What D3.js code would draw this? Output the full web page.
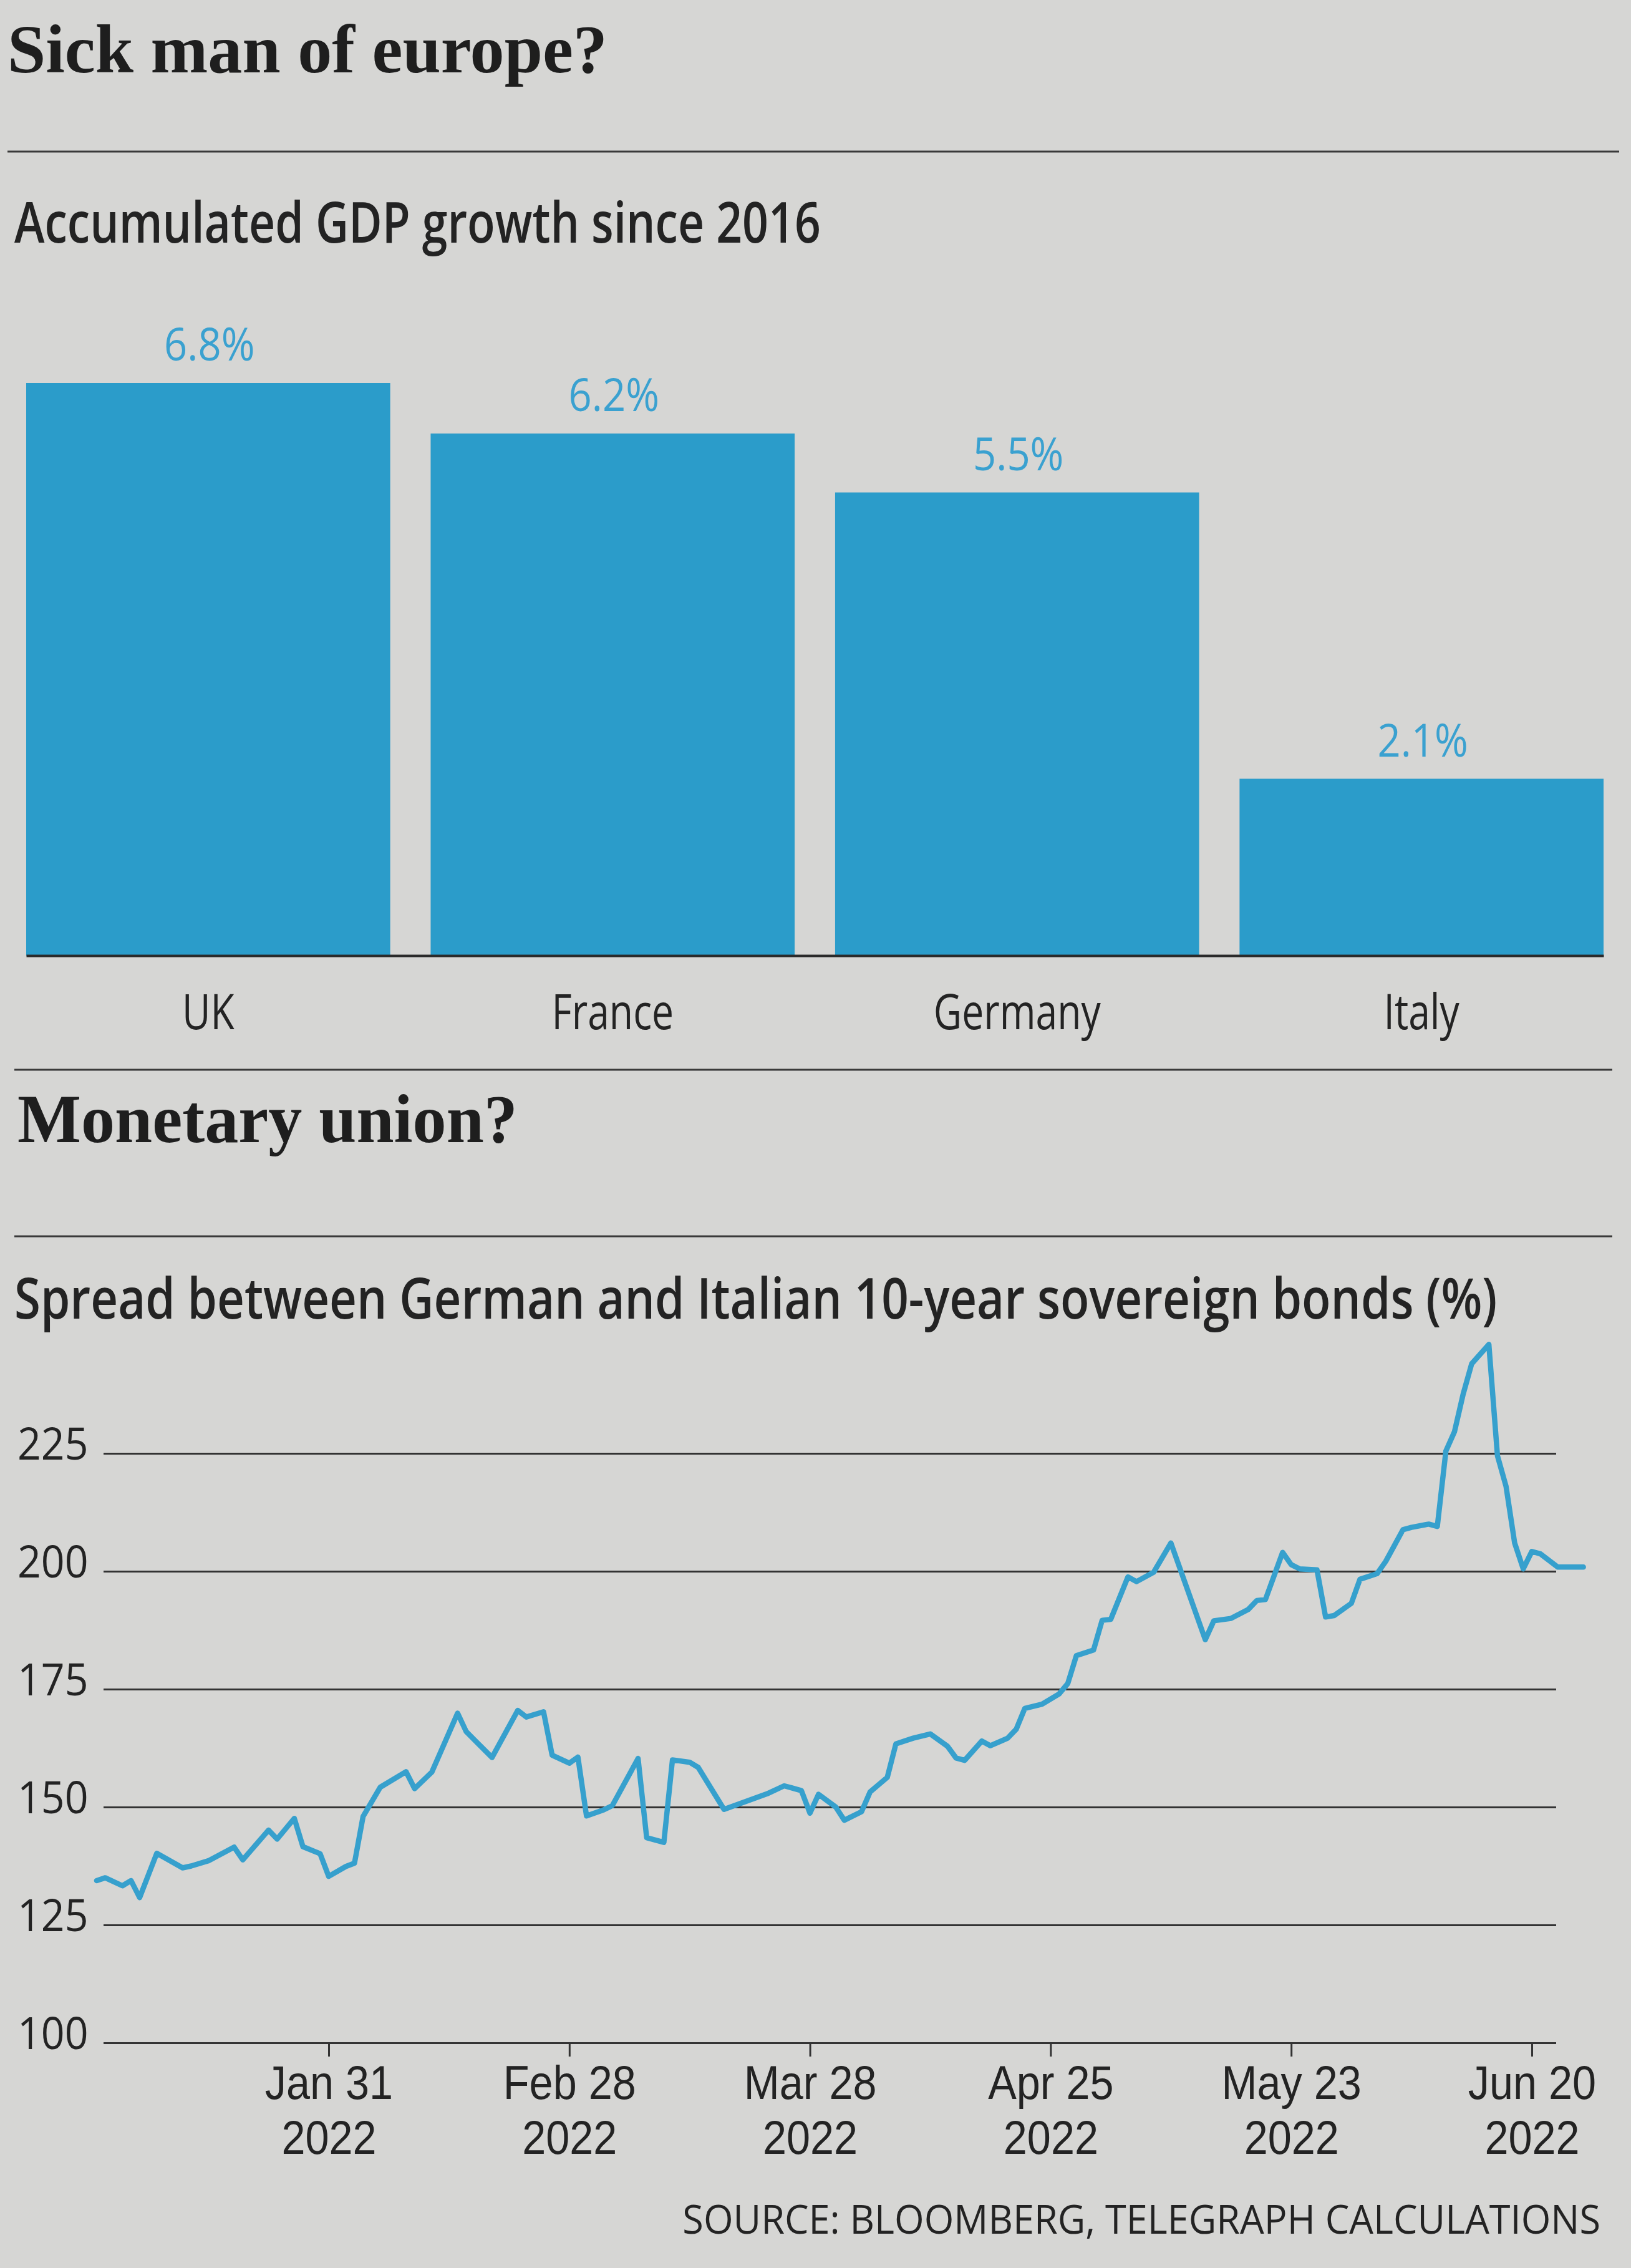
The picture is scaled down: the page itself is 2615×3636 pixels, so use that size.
<!DOCTYPE html>
<html><head><meta charset="utf-8">
<script src="https://cdn.jsdelivr.net/npm/d3@7"></script>
<style>html,body{margin:0;padding:0;background:#d6d6d4;} svg{display:block;}</style>
</head><body>
<svg id="chart" width="2615" height="3636"></svg>
<script>
// ---------- DATA ----------
const categories = ["UK", "France", "Germany", "Italy"];
const gdpGrowth = [6.8, 6.2, 5.5, 2.1];

const spreadTicks = [100, 125, 150, 175, 200, 225];
const dateTicks = ["2022-01-31", "2022-02-28", "2022-03-28", "2022-04-25", "2022-05-23", "2022-06-20"];

const spreadDates = [
  "2022-01-04","2022-01-05","2022-01-07","2022-01-08","2022-01-09","2022-01-11","2022-01-14","2022-01-15",
  "2022-01-17","2022-01-20","2022-01-21","2022-01-24","2022-01-25","2022-01-27","2022-01-28","2022-01-30",
  "2022-01-31","2022-02-02","2022-02-03","2022-02-04","2022-02-06","2022-02-09","2022-02-10","2022-02-12",
  "2022-02-15","2022-02-16","2022-02-19","2022-02-22","2022-02-23","2022-02-25","2022-02-26","2022-02-28",
  "2022-03-01","2022-03-02","2022-03-04","2022-03-05","2022-03-08","2022-03-09","2022-03-11","2022-03-12",
  "2022-03-14","2022-03-15","2022-03-18","2022-03-21","2022-03-23","2022-03-25","2022-03-27","2022-03-28",
  "2022-03-29","2022-03-31","2022-04-01","2022-04-03","2022-04-04","2022-04-06","2022-04-07","2022-04-09",
  "2022-04-11","2022-04-13","2022-04-14","2022-04-15","2022-04-17","2022-04-18","2022-04-20","2022-04-21",
  "2022-04-22","2022-04-24","2022-04-26","2022-04-27","2022-04-28","2022-04-30","2022-05-01","2022-05-02",
  "2022-05-04","2022-05-05","2022-05-07","2022-05-09","2022-05-13","2022-05-14","2022-05-16","2022-05-18",
  "2022-05-19","2022-05-20","2022-05-22","2022-05-23","2022-05-24","2022-05-26","2022-05-27","2022-05-28",
  "2022-05-30","2022-05-31","2022-06-02","2022-06-03","2022-06-05","2022-06-06","2022-06-08","2022-06-09",
  "2022-06-10","2022-06-11","2022-06-12","2022-06-13","2022-06-15","2022-06-16","2022-06-17","2022-06-18",
  "2022-06-19","2022-06-20","2022-06-21","2022-06-23","2022-06-26"
];
const spreadValues = [
  134.4,135.0,133.3,134.4,130.8,140.2,137.1,137.5,
  138.6,141.5,138.8,145.1,143.2,147.6,141.6,140.1,
  135.3,137.4,138.1,148.0,154.2,157.5,153.9,157.4,
  169.9,166.0,160.5,170.5,169.1,170.2,161.0,159.3,
  160.6,148.1,149.4,150.3,160.3,143.5,142.5,160.0,
  159.5,158.4,149.5,151.5,152.8,154.5,153.5,148.7,
  152.7,150.0,147.2,149.0,153.2,156.3,163.4,164.6,
  165.5,162.9,160.4,159.9,164.0,163.0,164.6,166.5,
  170.9,171.8,174.0,176.2,182.1,183.3,189.6,189.8,
  198.8,197.8,199.8,206.0,185.5,189.5,190.0,191.9,
  193.8,194.0,204.0,201.4,200.5,200.3,190.3,190.6,
  193.2,198.3,199.5,202.1,208.8,209.3,210.0,209.5,
  225.5,229.6,237.5,244.0,248.1,224.5,218.0,206.0,
  200.5,204.2,203.7,200.9,200.9
];

// ---------- STYLE ----------
const BLUE = "#2b9cca";
const BLUE_TXT = "#3aa1d0";
const INK = "#232323";
const SANS = "'Open Sans', 'Noto Sans', sans-serif";
const SANS_TIGHT = "'Liberation Sans', 'Open Sans', sans-serif";
const SERIF = "'Liberation Serif', 'DejaVu Serif', serif";

const svg = d3.select("#chart");
svg.append("rect").attr("width", 2615).attr("height", 3636).attr("fill", "#d6d6d4");

// place a text, horizontally scaled by transform (either to a target width or by a factor)
function placeText(parent, str, x, y, o) {
  const t = parent.append("text").text(str)
    .attr("font-family", o.family || SANS)
    .attr("font-weight", o.weight || 400)
    .attr("font-size", o.size)
    .attr("fill", o.fill || INK)
    .attr("text-anchor", o.anchor || "start");
  const w = t.node().getComputedTextLength();
  const s = o.width ? o.width / w : (o.k || 1);
  t.attr("transform", `translate(${x},${y}) scale(${s},1)`);
  return t;
}
function rule(y, x1, x2) {
  svg.append("line").attr("x1", x1).attr("x2", x2).attr("y1", y).attr("y2", y)
    .attr("stroke", "#3a3a3a").attr("stroke-width", 3);
}

// ---------- HEADINGS ----------
placeText(svg, "Sick man of europe?", 12, 116, { family: SERIF, weight: 700, size: 110, fill: "#1e1e1e", width: 962 });
rule(243, 12, 2596);
placeText(svg, "Accumulated GDP growth since 2016", 23, 389, { weight: 600, size: 90, width: 1293 });

// ---------- BAR CHART ----------
const xBand = d3.scaleBand().domain(categories).range([42, 2571]).paddingInner(0.1).paddingOuter(0);
const yBar = d3.scaleLinear().domain([0, 7]).range([1532, 587]);
const bars = categories.map((c, i) => ({ c, v: gdpGrowth[i] }));

svg.append("g").selectAll("rect").data(bars).join("rect")
  .attr("x", d => xBand(d.c)).attr("width", xBand.bandwidth())
  .attr("y", d => yBar(d.v)).attr("height", d => yBar(0) - yBar(d.v))
  .attr("fill", BLUE);

const gLab = svg.append("g");
bars.forEach(d => {
  placeText(gLab, d3.format(".1f")(d.v) + "%", xBand(d.c) + xBand.bandwidth() / 2 + 2, yBar(d.v) - 36,
    { size: 74, fill: BLUE_TXT, anchor: "middle", k: 0.88 });
});

const xAxisBar = d3.axisBottom(xBand).tickSize(0).tickFormat("");
const gxb = svg.append("g").attr("transform", "translate(0,1532)").call(xAxisBar);
gxb.select(".domain").attr("stroke", "#2a2a2a").attr("stroke-width", 4);
gxb.selectAll(".tick text").remove();
gxb.selectAll(".tick").each(function (d) {
  placeText(d3.select(this), d, 0, 118, { weight: 500, size: 78, anchor: "middle", k: 0.8 });
});

// ---------- SECOND HEADINGS ----------
rule(1715, 23, 2585);
placeText(svg, "Monetary union?", 28, 1831, { family: SERIF, weight: 700, size: 110, fill: "#1e1e1e", width: 802 });
rule(1982, 23, 2585);
placeText(svg, "Spread between German and Italian 10-year sovereign bonds (%)", 23, 2114,
  { weight: 600, size: 90, width: 2378 });

// ---------- LINE CHART ----------
const parse = d3.utcParse("%Y-%m-%d");
const tickDates = dateTicks.map(parse);
const series = spreadDates.map((d, i) => ({ date: parse(d), v: spreadValues[i] }));

const xT = d3.scaleUtc().domain([tickDates[0], tickDates[tickDates.length - 1]]).range([527, 2456]);
const yS = d3.scaleLinear().domain([100, 225]).range([3275, 2330]);

const gridL = 166, gridR = 2495;
const yAxis = d3.axisLeft(yS).tickValues(spreadTicks).tickSize(-(gridR - gridL)).tickFormat("");
const gy = svg.append("g").attr("transform", `translate(${gridL},0)`).call(yAxis);
gy.select(".domain").remove();
gy.selectAll(".tick line").attr("stroke", "#333").attr("stroke-width", 3);
gy.selectAll(".tick text").remove();
gy.selectAll(".tick").each(function (d) {
  placeText(d3.select(this), String(d), 28 - gridL, 9, { size: 72, k: 0.92 });
});

const fmtMD = d3.utcFormat("%b %-d"), fmtY = d3.utcFormat("%Y");
const xAxis = d3.axisBottom(xT).tickValues(tickDates).tickSize(22).tickFormat("");
const gx = svg.append("g").attr("transform", `translate(0,${yS(100)})`).call(xAxis);
gx.select(".domain").remove();
gx.selectAll(".tick line").attr("stroke", "#333").attr("stroke-width", 3);
gx.selectAll(".tick text").remove();
gx.selectAll(".tick").each(function (d) {
  const g = d3.select(this);
  placeText(g, fmtMD(d), 0, 3365 - yS(100), { family: SANS_TIGHT, size: 76, anchor: "middle", k: 0.9 });
  placeText(g, fmtY(d), 0, 3453 - yS(100), { family: SANS_TIGHT, size: 76, anchor: "middle", k: 0.9 });
});

const line = d3.line().x(d => xT(d.date)).y(d => yS(d.v)).curve(d3.curveLinear);
svg.append("path").datum(series).attr("d", line)
  .attr("fill", "none").attr("stroke", "#36a0cd").attr("stroke-width", 8.5)
  .attr("stroke-linejoin", "round").attr("stroke-linecap", "round");

// ---------- SOURCE ----------
placeText(svg, "SOURCE: BLOOMBERG, TELEGRAPH CALCULATIONS", 2566, 3581,
  { weight: 500, size: 64, anchor: "end", width: 1472 });
</script>
</body></html>
